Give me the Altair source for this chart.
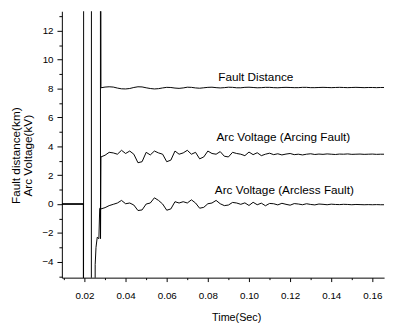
import altair as alt
import pandas as pd

# ---------------- data ----------------
SERIES = ["Fault Distance", "Arc Voltage (Arcing Fault)", "Arc Voltage (Arcless Fault)"]

# transient part (before the signals settle)
FD_PRE_T = [0.009, 0.0195, 0.0195, 0.0196, 0.0279]
FD_PRE_V = [0.0, 0.0, -30.0, 30.0, 30.0]

ARC_PRE_T = [0.009, 0.0195, 0.0195, 0.0233, 0.0234, 0.0277, 0.0278]
ARC_PRE_V = [0.0, 0.0, -30.0, -30.0, 30.0, 30.0, -2.4]

ARCLESS_PRE_T = [0.009, 0.0195, 0.0195, 0.0250, 0.0252, 0.0256, 0.0262, 0.0270, 0.0274]
ARCLESS_PRE_V = [0.0, 0.0, -30.0, -30.0, -4.2, -3.0, -2.3, -2.4, -0.3]

# steady part
T_STEADY = [0.028, 0.030, 0.032, 0.034, 0.036, 0.038, 0.040, 0.042, 0.044, 0.046,
            0.048, 0.050, 0.052, 0.054, 0.056, 0.058, 0.060, 0.062, 0.064, 0.066,
            0.068, 0.070, 0.072, 0.074, 0.076, 0.078, 0.080, 0.082, 0.084, 0.086,
            0.088, 0.090, 0.092, 0.094, 0.096, 0.098, 0.100, 0.102, 0.104, 0.106,
            0.108, 0.110, 0.112, 0.114, 0.116, 0.118, 0.120, 0.122, 0.124, 0.126,
            0.128, 0.130, 0.132, 0.134, 0.136, 0.138, 0.140, 0.142, 0.144, 0.146,
            0.148, 0.150, 0.152, 0.154, 0.156, 0.158, 0.160, 0.162, 0.164, 0.1657]

FD_VALS = [8.05, 8.10, 8.12, 8.10, 8.03, 7.98, 7.97, 8.00, 8.07, 8.12,
           8.11, 8.05, 8.00, 7.97, 7.99, 8.04, 8.08, 8.07, 8.03, 8.01,
           8.04, 8.09, 8.08, 8.04, 8.02, 8.05, 8.08, 8.09, 8.06, 8.04,
           8.06, 8.09, 8.08, 8.05, 8.05, 8.08, 8.09, 8.07, 8.05, 8.06,
           8.08, 8.08, 8.06, 8.05, 8.07, 8.08, 8.07, 8.06, 8.06, 8.08,
           8.08, 8.06, 8.06, 8.07, 8.08, 8.07, 8.06, 8.07, 8.08, 8.07,
           8.06, 8.07, 8.08, 8.07, 8.06, 8.07, 8.07, 8.06, 8.07, 8.07]

ARC_VALS = [3.26, 3.38, 3.58, 3.54, 3.45, 3.72, 3.50, 3.67, 3.45, 2.86,
            2.93, 3.58, 3.40, 3.67, 3.54, 3.45, 2.93, 3.04, 3.67, 3.45,
            3.54, 3.72, 3.45, 3.58, 3.13, 3.26, 3.67, 3.50, 3.45, 3.63,
            3.31, 3.26, 3.58, 3.50, 3.45, 3.35, 3.60, 3.42, 3.55, 3.35,
            3.45, 3.52, 3.42, 3.48, 3.40, 3.46, 3.50, 3.42, 3.45, 3.40,
            3.45, 3.48, 3.43, 3.46, 3.44, 3.47, 3.45, 3.43, 3.46, 3.45,
            3.47, 3.44, 3.45, 3.46, 3.44, 3.45, 3.46, 3.44, 3.45, 3.45]

ARCLESS_VALS = [-0.34, -0.25, -0.11, -0.02, 0.07, 0.25, 0.02, 0.07, -0.07, -0.45,
                -0.41, 0.00, 0.07, 0.43, 0.25, 0.00, -0.43, -0.34, 0.16, 0.07,
                0.16, 0.07, 0.29, 0.07, -0.29, -0.23, 0.02, 0.07, 0.25, 0.02,
                -0.11, -0.07, 0.11, 0.07, -0.02, 0.08, -0.10, 0.12, -0.05, 0.06,
                -0.12, 0.04, 0.02, -0.06, 0.05, -0.02, -0.08, 0.03, 0.00, -0.05,
                0.02, -0.03, -0.06, 0.00, -0.02, -0.05, -0.01, -0.03, -0.04, -0.02,
                -0.03, -0.05, -0.03, -0.04, -0.05, -0.04, -0.05, -0.04, -0.05, -0.05]

LABEL_TEXT = ["Fault Distance", "Arc Voltage (Arcing Fault)", "Arc Voltage (Arcless Fault)"]
LABEL_T = [0.1033, 0.1167, 0.1172]
LABEL_V = [8.8, 4.66, 0.95]

X_MAJOR = [0.02, 0.04, 0.06, 0.08, 0.10, 0.12, 0.14, 0.16]
X_MINOR = [0.01, 0.03, 0.05, 0.07, 0.09, 0.11, 0.13, 0.15]
Y_MAJOR = [-4, -2, 0, 2, 4, 6, 8, 10, 12]
Y_MINOR = [-5, -3, -1, 1, 3, 5, 7, 9, 11, 13]

# ---------------- table ----------------
rows = []
for name, pt, pv, sv in [
    (SERIES[0], FD_PRE_T, FD_PRE_V, FD_VALS),
    (SERIES[1], ARC_PRE_T, ARC_PRE_V, ARC_VALS),
    (SERIES[2], ARCLESS_PRE_T, ARCLESS_PRE_V, ARCLESS_VALS),
]:
    ts = pt + T_STEADY
    vs = pv + sv
    for i, (t, v) in enumerate(zip(ts, vs)):
        rows.append({"series": name, "t": t, "v": v, "o": i})
df = pd.DataFrame(rows)
labels_df = pd.DataFrame({"text": LABEL_TEXT, "t": LABEL_T, "v": LABEL_V})

FONT = "Liberation Sans"
x_scale = alt.Scale(domain=[0.009, 0.1657], nice=False, zero=False)
y_scale = alt.Scale(domain=[-5.1, 13.35], nice=False, zero=False)

lines = alt.Chart(df).mark_line(clip=True, color="black", strokeWidth=1).encode(
    x=alt.X("t:Q", scale=x_scale,
            axis=alt.Axis(values=X_MAJOR, format=".2f", title="Time(Sec)", orient="bottom",
                          grid=False, tickSize=4, labelPadding=9, titlePadding=12,
                          titleX=178, labelFontSize=10, titleFontSize=11)),
    y=alt.Y("v:Q", scale=y_scale,
            axis=alt.Axis(values=Y_MAJOR, format="d", title=["Fault distance(km)", "Arc Voltage(kV)"],
                          orient="left", grid=False, tickSize=5, labelPadding=4, titlePadding=8,
                          titleY=147, titleLineHeight=12, labelFontSize=10, titleFontSize=12)),
    detail="series:N",
    order="o:Q",
)

minor = alt.Chart(df).mark_point(clip=True, opacity=0).encode(
    x=alt.X("t:Q", scale=x_scale,
            axis=alt.Axis(values=X_MINOR, labels=False, title=None, domain=False, grid=False,
                          orient="bottom", tickSize=2)),
    y=alt.Y("v:Q", scale=y_scale,
            axis=alt.Axis(values=Y_MINOR, labels=False, title=None, domain=False, grid=False,
                          orient="left", tickSize=3)),
)

texts = alt.Chart(labels_df).mark_text(font=FONT, fontSize=12, color="black",
                                       align="center", baseline="middle").encode(
    x=alt.X("t:Q", scale=x_scale, axis=None),
    y=alt.Y("v:Q", scale=y_scale, axis=None),
    text="text:N",
)

chart = alt.layer(lines, minor, texts).resolve_axis(
    x="independent", y="independent"
).properties(
    width=329, height=272,
    autosize="none",
    padding={"left": 55, "top": 0, "right": 5, "bottom": 45},
    background="white",
).configure_view(stroke=None).configure_axis(
    labelFont=FONT, titleFont=FONT, labelColor="black", titleColor="black",
    domainColor="black", tickColor="black", titleFontWeight="normal",
    domainWidth=1, tickWidth=1,
)

chart.save("out.html", embed_options={"renderer": "svg", "actions": False})
